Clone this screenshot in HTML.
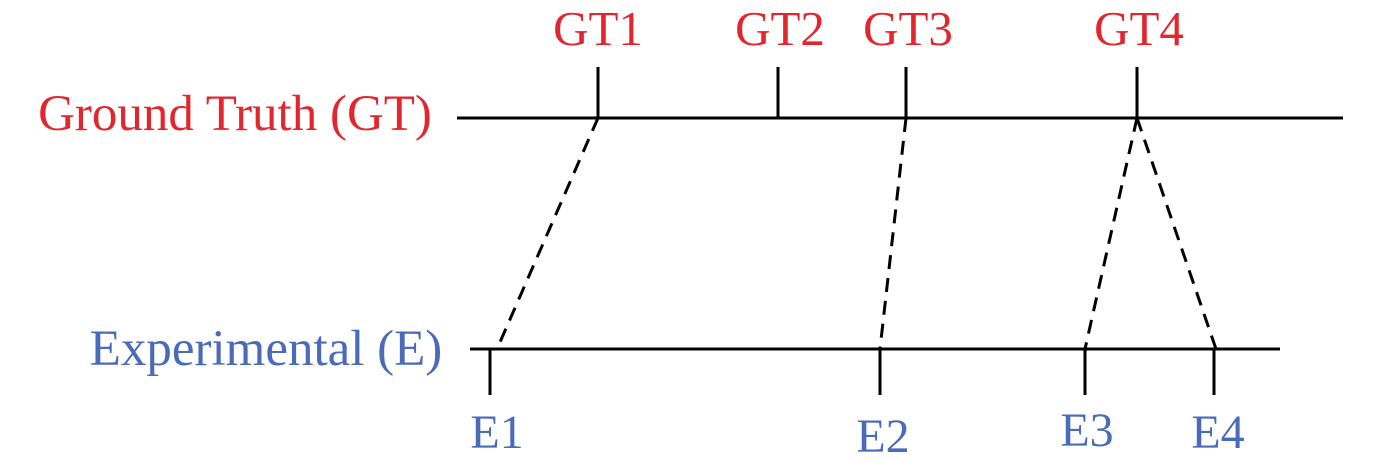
<!DOCTYPE html>
<html><head><style>html,body{margin:0;padding:0;background:#fff;}svg{display:block}</style></head>
<body>
<svg width="1378" height="467" viewBox="0 0 1378 467" xmlns="http://www.w3.org/2000/svg">
<g font-family="Liberation Serif, serif">
<g fill="#e3262d" font-size="49" text-anchor="middle">
<text x="598" y="45">GT1</text>
<text x="780" y="45">GT2</text>
<text x="908" y="45">GT3</text>
<text x="1139" y="45">GT4</text>
<text x="235" y="130" font-size="51">Ground Truth (GT)</text>
</g>
<g fill="#4a6cb8" font-size="48" text-anchor="middle">
<text x="266" y="365" font-size="51">Experimental (E)</text>
<text x="497" y="448">E1</text>
<text x="883" y="452">E2</text>
<text x="1087" y="446">E3</text>
<text x="1218" y="448">E4</text>
</g>
</g>
<g stroke="#000" stroke-width="3" fill="none">
<line x1="457" y1="118" x2="1343" y2="118"/>
<line x1="598" y1="67" x2="598" y2="118"/>
<line x1="778" y1="67" x2="778" y2="118"/>
<line x1="906" y1="67" x2="906" y2="118"/>
<line x1="1137" y1="67" x2="1137" y2="118"/>
<line x1="470" y1="349" x2="1280" y2="349"/>
<line x1="490" y1="349" x2="490" y2="395"/>
<line x1="880" y1="349" x2="880" y2="395"/>
<line x1="1085" y1="349" x2="1085" y2="395"/>
<line x1="1214" y1="349" x2="1214" y2="395"/>
</g>
<g stroke="#000" stroke-width="3" fill="none" stroke-dasharray="14,9">
<line x1="598" y1="118" x2="497" y2="349"/>
<line x1="906" y1="118" x2="880" y2="349"/>
<line x1="1137" y1="118" x2="1085" y2="349"/>
<line x1="1137" y1="118" x2="1216" y2="349"/>
</g>
</svg>
</body></html>
